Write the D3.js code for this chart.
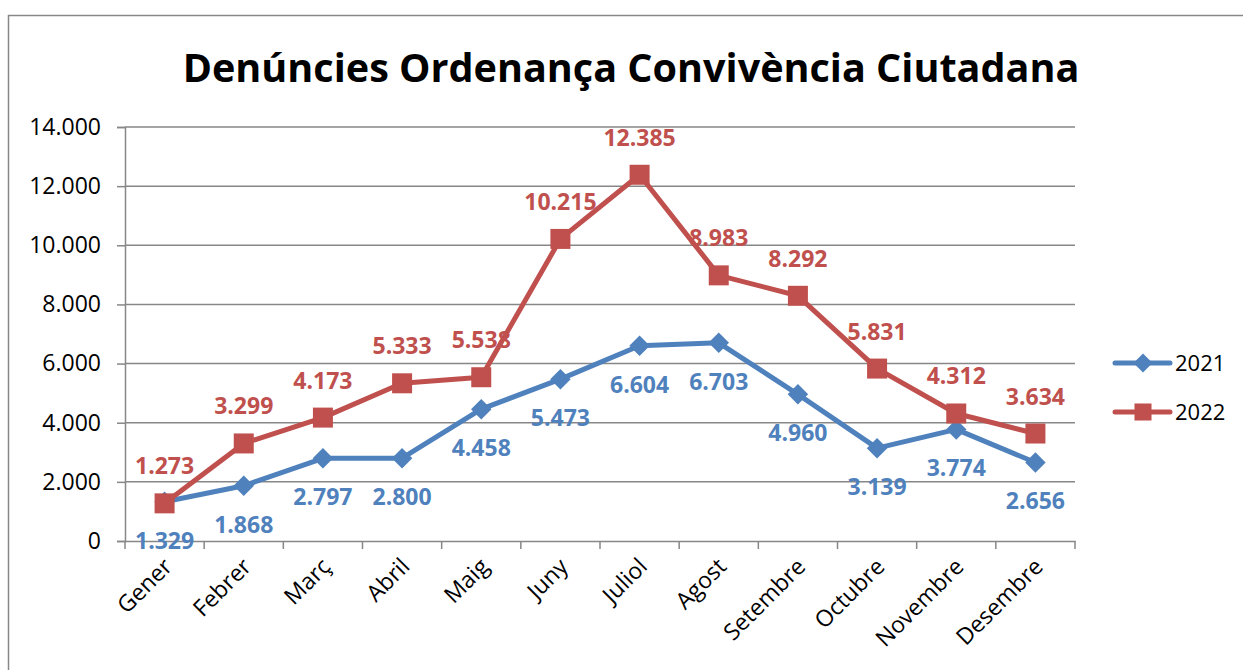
<!DOCTYPE html>
<html>
<head>
<meta charset="utf-8">
<script src="https://cdn.jsdelivr.net/npm/d3@7"></script>
<style>
  body { margin: 0; background: #fff; }
  svg { display: block; font-family: 'Open Sans', sans-serif; }
</style>
</head>
<body>
<svg id="chart" width="1243" height="670"></svg>
<script>
// Data
const months = ['Gener', 'Febrer', 'Març', 'Abril', 'Maig', 'Juny', 'Juliol', 'Agost', 'Setembre', 'Octubre', 'Novembre', 'Desembre']
const values2021 = [1329, 1868, 2797, 2800, 4458, 5473, 6604, 6703, 4960, 3139, 3774, 2656]
const values2022 = [1273, 3299, 4173, 5333, 5538, 10215, 12385, 8983, 8292, 5831, 4312, 3634]
const yTicks = [0, 2000, 4000, 6000, 8000, 10000, 12000, 14000]
const seriesNames = ['2021', '2022']

const BLUE = '#4F81BD'
const RED = '#C0504D'
const GRID = '#878787'

const plot = { left: 125, right: 1075, top: 127, bottom: 541 }
const fmt = v => d3.format(',')(v).replace(/,/g, '.')

const svg = d3.select('#chart')

// outer frame
svg.append('path')
  .attr('d', 'M8.5,680 V15.5 H1260')
  .attr('fill', 'none')
  .attr('stroke', GRID)
  .attr('stroke-width', 1.5)

// title
const title = svg.append('text')
  .attr('x', 631)
  .attr('y', 82)
  .attr('text-anchor', 'middle')
  .attr('font-weight', 'bold')
  .attr('font-size', 44)
  .attr('fill', '#000')
  .text('Denúncies Ordenança Convivència Ciutadana')
const tw = title.node().getComputedTextLength()
title.attr('font-size', 44 * 897 / tw)

// scales
const xScale = d3.scaleBand()
  .domain(months)
  .range([plot.left, plot.right])

const yScale = d3.scaleLinear()
  .domain([0, 14000])
  .range([plot.bottom, plot.top])

const xPos = d => xScale(d) + xScale.bandwidth() / 2

// gridlines
svg.append('g')
  .selectAll('line')
  .data(yTicks.filter(t => t > 0))
  .enter()
  .append('line')
  .attr('x1', plot.left)
  .attr('x2', plot.right)
  .attr('y1', d => yScale(d))
  .attr('y2', d => yScale(d))
  .attr('stroke', GRID)
  .attr('stroke-width', 1.5)

// y axis
const yAxis = d3.axisLeft(yScale)
  .tickValues(yTicks)
  .tickSize(8)
  .tickPadding(16)
  .tickFormat(fmt)
const gy = svg.append('g')
  .attr('transform', `translate(${plot.left},0)`)
  .call(yAxis)
gy.select('.domain').attr('stroke', GRID).attr('stroke-width', 1.5)
gy.selectAll('.tick line').attr('stroke', GRID).attr('stroke-width', 1.5)
gy.selectAll('.tick text')
  .attr('font-size', 23)
  .attr('font-family', 'Open Sans, sans-serif')
  .attr('fill', '#000')

// x axis
const xAxis = d3.axisBottom(xScale).tickSize(0).tickFormat('')
const gx = svg.append('g')
  .attr('transform', `translate(0,${plot.bottom})`)
  .call(xAxis)
gx.select('.domain').attr('stroke', GRID).attr('stroke-width', 1.5)

// category boundary ticks
const bounds = months.map(m => xScale(m)).concat([plot.right])
svg.append('g')
  .selectAll('line')
  .data(bounds)
  .enter()
  .append('line')
  .attr('x1', d => d)
  .attr('x2', d => d)
  .attr('y1', plot.bottom)
  .attr('y2', plot.bottom + 8)
  .attr('stroke', GRID)
  .attr('stroke-width', 1.5)

// month labels
svg.append('g')
  .selectAll('text')
  .data(months)
  .enter()
  .append('text')
  .attr('transform', d => `translate(${xPos(d) + 9},${plot.bottom + 27}) rotate(-45)`)
  .attr('text-anchor', 'end')
  .attr('font-size', 23)
  .attr('fill', '#000')
  .text(d => d)

const series = [
  { name: seriesNames[0], values: values2021, color: BLUE, rot: 45, size: 210, dy: 47 },
  { name: seriesNames[1], values: values2022, color: RED, rot: 0, size: 400, dy: -29 }
]

const line = d3.line()
  .x((d, i) => xPos(months[i]))
  .y(d => yScale(d))

// data labels (drawn under the lines)
series.forEach(s => {
  svg.append('g')
    .selectAll('text')
    .data(s.values)
    .enter()
    .append('text')
    .attr('x', (d, i) => xPos(months[i]))
    .attr('y', d => yScale(d) + s.dy)
    .attr('text-anchor', 'middle')
    .attr('font-size', 23)
    .attr('font-weight', 'bold')
    .attr('fill', s.color)
    .text(fmt)
})

// lines and markers
series.forEach(s => {
  svg.append('path')
    .datum(s.values)
    .attr('d', line)
    .attr('fill', 'none')
    .attr('stroke', s.color)
    .attr('stroke-width', 5)
    .attr('stroke-linejoin', 'round')

  svg.append('g')
    .selectAll('path')
    .data(s.values)
    .enter()
    .append('path')
    .attr('d', d3.symbol().type(d3.symbolSquare).size(s.size))
    .attr('transform', (d, i) => `translate(${xPos(months[i])},${yScale(d)}) rotate(${s.rot})`)
    .attr('fill', s.color)
})

// legend
const legend = svg.append('g')
  .selectAll('g')
  .data(series)
  .enter()
  .append('g')
  .attr('transform', (d, i) => `translate(1115,${363 + i * 49})`)
legend.append('line')
  .attr('x1', 0)
  .attr('x2', 55)
  .attr('stroke', d => d.color)
  .attr('stroke-width', 5)
  .attr('stroke-linecap', 'round')
legend.append('path')
  .attr('d', d => d3.symbol().type(d3.symbolSquare).size(d.rot ? 180 : 290)())
  .attr('transform', d => `translate(28,0) rotate(${d.rot})`)
  .attr('fill', d => d.color)
legend.append('text')
  .attr('x', 60)
  .attr('y', 8)
  .attr('font-size', 22)
  .attr('fill', '#000')
  .text(d => d.name)
</script>
</body>
</html>
